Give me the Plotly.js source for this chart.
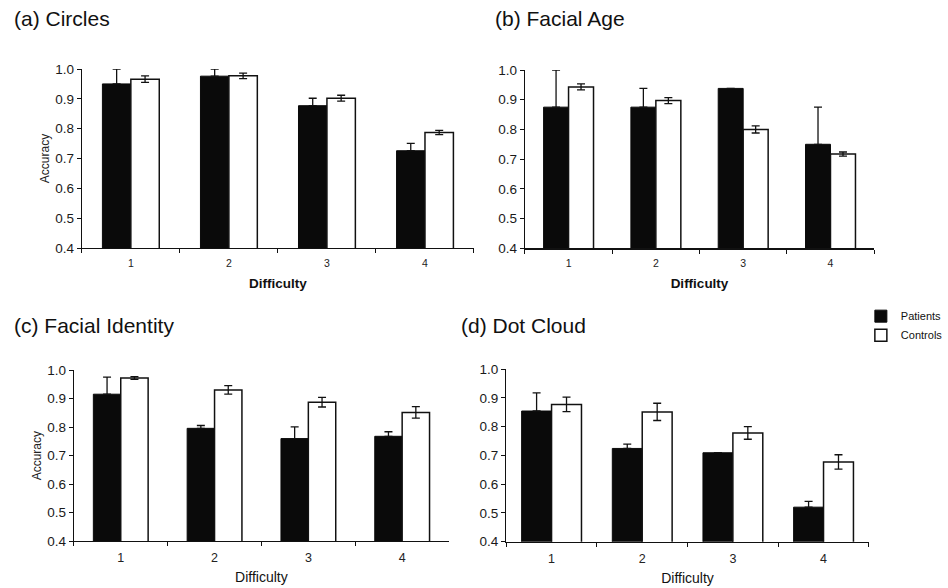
<!DOCTYPE html>
<html>
<head>
<meta charset="utf-8">
<script src="https://cdn.plot.ly/plotly-3.0.1.min.js"></script>
<style>html,body{margin:0;padding:0;background:#fff;}#chart{width:948px;height:588px;}</style>
</head>
<body>
<div id="chart"></div>
<script>
// ---- data ----
const categories = ['1', '2', '3', '4'];
const seriesNames = ['Patients', 'Controls'];
const panelTitles = ['(a) Circles', '(b) Facial Age', '(c) Facial Identity', '(d) Dot Cloud'];

const circlesPatients = [0.950, 0.976, 0.877, 0.726];
const circlesPatientsErr = [0.050, 0.024, 0.025, 0.025];
const circlesControls = [0.966, 0.977, 0.902, 0.787];
const circlesControlsErr = [0.011, 0.009, 0.010, 0.007];

const ageaPatients = [0.875, 0.875, 0.938, 0.750];
const ageaPatientsErr = [0.125, 0.063, 0.000, 0.125];
const ageaControls = [0.943, 0.897, 0.800, 0.717];
const ageaControlsErr = [0.010, 0.010, 0.012, 0.007];

const identityPatients = [0.916, 0.796, 0.760, 0.768];
const identityPatientsErr = [0.060, 0.010, 0.041, 0.016];
const identityControls = [0.973, 0.931, 0.888, 0.852];
const identityControlsErr = [0.005, 0.015, 0.017, 0.020];

const dotPatients = [0.854, 0.724, 0.709, 0.520];
const dotPatientsErr = [0.063, 0.015, 0.000, 0.020];
const dotControls = [0.877, 0.851, 0.778, 0.677];
const dotControlsErr = [0.025, 0.030, 0.022, 0.025];

// ---- build ----
const W = 948, H = 588;
const FONT = 'Liberation Sans, Arial, sans-serif';
const panels = [
  {p: circlesPatients, pe: circlesPatientsErr, c: circlesControls, ce: circlesControlsErr,
   px: [82, 475], py: [69, 248], bw: 0.29, bold: true, ytitle: 'Accuracy'},
  {p: ageaPatients, pe: ageaPatientsErr, c: ageaControls, ce: ageaControlsErr,
   px: [526, 876], py: [70, 248.3], bw: 0.286, bold: true, ytitle: ''},
  {p: identityPatients, pe: identityPatientsErr, c: identityControls, ce: identityControlsErr,
   px: [74, 450], py: [370.3, 541], bw: 0.292, bold: false, ytitle: 'Accuracy'},
  {p: dotPatients, pe: dotPatientsErr, c: dotControls, ce: dotControlsErr,
   px: [507.3, 870.7], py: [369, 541.7], bw: 0.33, bold: false, ytitle: ''}
];

const traces = [];
const layout = {
  width: W, height: H,
  margin: {l: 0, r: 0, t: 0, b: 0},
  paper_bgcolor: '#fff', plot_bgcolor: 'rgba(0,0,0,0)',
  font: {family: FONT, color: '#111', size: 12},
  barmode: 'overlay',
  showlegend: true,
  legend: {x: 0.91, y: 0.487, xanchor: 'left', yanchor: 'top',
           font: {family: FONT, size: 11, color: '#111'}, itemwidth: 30,
           tracegroupgap: 0, bgcolor: 'rgba(0,0,0,0)'},
  annotations: []
};

panels.forEach((pn, i) => {
  const k = i === 0 ? '' : String(i + 1);
  const xa = 'x' + k, ya = 'y' + k;
  const errStyle = {type: 'data', visible: true, color: '#111', thickness: 1.3, width: 4};
  traces.push({
    type: 'bar', name: seriesNames[0], x: categories, y: pn.p,
    xaxis: xa, yaxis: ya, width: pn.bw, offset: -pn.bw,
    marker: {color: '#0a0a0a', line: {color: '#0a0a0a', width: 1}},
    error_y: Object.assign({array: pn.pe, arrayminus: pn.pe.map(() => 0), symmetric: false}, errStyle),
    showlegend: i === 0
  });
  traces.push({
    type: 'bar', name: seriesNames[1], x: categories, y: pn.c,
    xaxis: xa, yaxis: ya, width: pn.bw, offset: 0,
    marker: {color: '#ffffff', line: {color: '#111', width: 1.5}},
    error_y: Object.assign({array: pn.ce, symmetric: true}, errStyle),
    showlegend: i === 0
  });
  layout['xaxis' + k] = {
    domain: [pn.px[0] / W, pn.px[1] / W], anchor: ya,
    type: 'category', range: [-0.5, 3.5], fixedrange: true,
    showline: true, linecolor: '#111', linewidth: 1.2,
    ticks: 'outside', tickson: 'boundaries', ticklen: 4, tickcolor: '#111', tickwidth: 1,
    showgrid: false, zeroline: false,
    ticklabelstandoff: pn.bold ? 5 : 5,
    tickfont: {family: FONT, size: pn.bold ? 10.5 : 12.5, color: '#222'},
    title: {text: pn.bold ? '<b>Difficulty</b>' : 'Difficulty',
            font: {family: FONT, size: pn.bold ? 13.5 : 14, color: '#111'},
            standoff: pn.bold ? 10 : 8}
  };
  layout['yaxis' + k] = {
    domain: [1 - pn.py[1] / H, 1 - pn.py[0] / H], anchor: xa,
    range: [0.4, 1.0], dtick: 0.1, tick0: 0.4, tickformat: '.1f', fixedrange: true,
    showline: true, linecolor: '#111', linewidth: 1.2,
    ticks: 'outside', ticklen: 4, tickcolor: '#111', tickwidth: 1,
    showgrid: false, zeroline: false,
    tickfont: {family: FONT, size: 13.5, color: '#1a1a1a'},
    title: {text: pn.ytitle, font: {family: FONT, size: 12, color: '#222'}, standoff: 3}
  };
});

const titlePos = [[12, 19], [494, 19], [12, 325], [460, 326]];
panelTitles.forEach((t, i) => {
  layout.annotations.push({
    text: t, xref: 'paper', yref: 'paper',
    x: titlePos[i][0] / W, y: 1 - titlePos[i][1] / H,
    xanchor: 'left', yanchor: 'middle', showarrow: false,
    font: {family: FONT, size: 21, color: '#111'}
  });
});

Plotly.newPlot('chart', traces, layout, {displayModeBar: false, staticPlot: true});
</script>
</body>
</html>
